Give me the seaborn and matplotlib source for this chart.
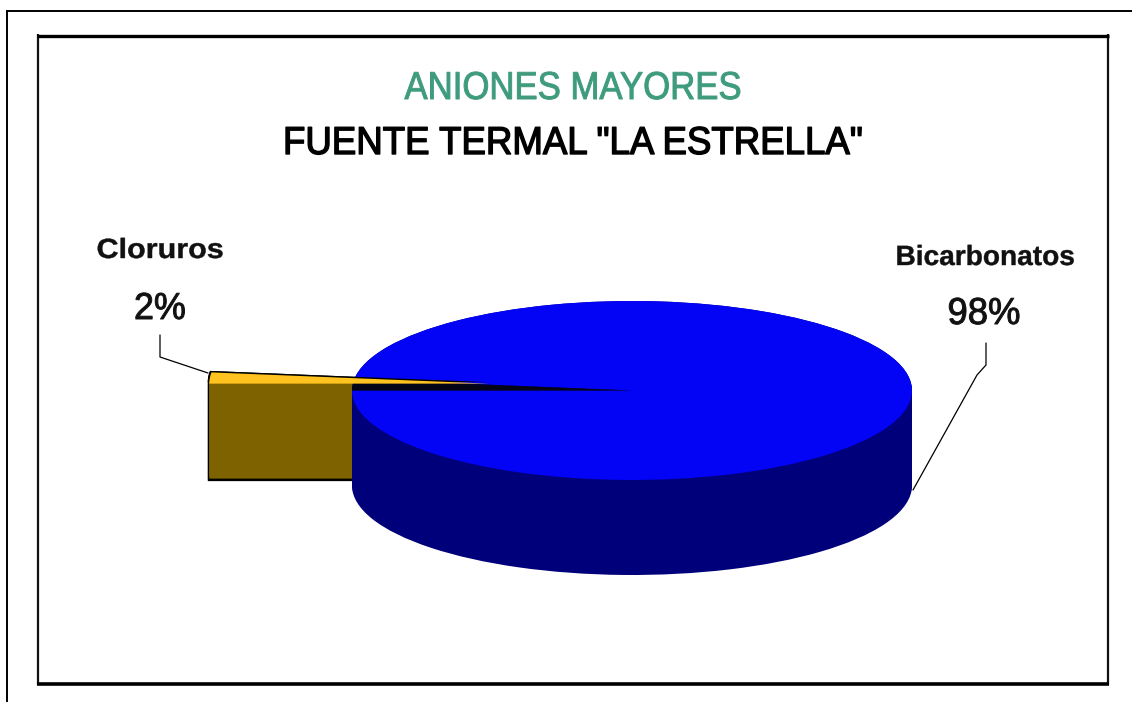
import matplotlib
matplotlib.use("Agg")
import matplotlib.pyplot as plt
from matplotlib.patheffects import AbstractPathEffect
from matplotlib.transforms import Affine2D
import seaborn as sns

W, H = 1132, 702
categories = ["Bicarbonatos", "Cloruros"]
values = [98, 2]
percent_labels = ["98%", "2%"]
title_top = "ANIONES MAYORES"
title_main = 'FUENTE TERMAL "LA ESTRELLA"'

sns.set_theme(style="white")
FONT = "Liberation Sans"

fig = plt.figure(figsize=(W / 100, H / 100), dpi=100, facecolor="white")

# page overlay in pixel coordinates
page = fig.add_axes([0, 0, 1, 1], zorder=5)
page.set_xlim(0, W)
page.set_ylim(H, 0)
page.axis("off")
page.patch.set_alpha(0)

# pie axes: unit circle stretched to the ellipse of the top face
L, R, T, B = 352, 912, 301, 480
pie_ax = fig.add_axes([L / W, 1 - B / H, (R - L) / W, (B - T) / H], zorder=1)
pie_ax.patch.set_alpha(0)
rx = (R - L) / 2
ry = (B - T) / 2
depth_units = 95 / ry
NONE = (0, 0, 0, 0)
START = 180


def layer(colors, center=(0.0, 0.0), explode=(0, 0)):
    props = {"linewidth": 0, "edgecolor": "none", "clip_on": False}
    pie_ax.pie(values, colors=colors, startangle=START, radius=1, center=center,
               explode=explode, wedgeprops=props, frame=True, normalize=True)


EXPL = (0, 143 / rx)
LIFT = 4 / ry
steps = 60
# exploded slice: dark backing, then side wall
for i in range(steps + 1):
    y = LIFT + 1.5 / ry - (depth_units + 4 / ry) * i / steps
    layer([NONE, "black"], (-1.5 / rx, y), EXPL)
for i in range(steps + 1):
    layer([NONE, "#7F6200"], (0, LIFT - depth_units * i / steps), EXPL)
# main body side wall
for i in range(steps + 1):
    layer(["#00007A", "#00007A"], (0, -depth_units * i / steps))
# top face
layer(["#0303F5", "#050518"])
layer([NONE, "black"], (-1.5 / rx, LIFT + 1.5 / ry), EXPL)
layer([NONE, "#FFC21E"], (0, LIFT), EXPL)
pie_ax.set_xlim(-1, 1)
pie_ax.set_ylim(-1, 1)
pie_ax.set_aspect("auto")
pie_ax.axis("off")

# frames
page.plot([7, 7], [702, 11], color="black", lw=1.4, solid_capstyle="butt")
page.plot([6, 1132], [11, 11], color="black", lw=1.4, solid_capstyle="butt")
page.plot([38, 38], [34, 685], color="#111111", lw=1.6, solid_capstyle="butt")
page.plot([1108, 1108], [34, 685], color="#111111", lw=1.6, solid_capstyle="butt")
page.plot([37, 1109], [35.5, 35.5], color="black", lw=2.4, solid_capstyle="butt")
page.plot([37, 1109], [683.5, 683.5], color="black", lw=2.6, solid_capstyle="butt")

# leader lines
page.plot([160, 160, 208], [335, 357, 373], color="black", lw=0.9)
page.plot([986, 986, 977, 913], [343, 365, 375, 490], color="black", lw=0.9)


class SqueezeX(AbstractPathEffect):
    """Draw the glyphs narrower about a fixed x, with a thin stroke for weight."""

    def __init__(self, sx, cx, stroke):
        super().__init__()
        self.sx, self.cx, self.stroke = sx, cx, stroke

    def draw_path(self, renderer, gc, tpath, affine, rgbFace=None):
        squeeze = Affine2D().translate(-self.cx, 0).scale(self.sx, 1).translate(self.cx, 0)
        gc0 = renderer.new_gc()
        gc0.copy_properties(gc)
        gc0.set_linewidth(self.stroke)
        gc0.set_foreground(rgbFace)
        renderer.draw_path(gc0, tpath, affine + squeeze, rgbFace)
        gc0.restore()


def fitted(x, y, s, width, size, color, weight="normal", stroke=0.7):
    t = page.text(x, y, s, color=color, fontsize=size, family=FONT, weight=weight,
                  ha="center", va="center")
    real = t.get_window_extent(fig.canvas.get_renderer()).width
    t.set_path_effects([SqueezeX(width / real, x, stroke)])
    return t


fitted(573, 89, title_top, 337, 28, "#3F9B7E")
fitted(573, 144, title_main, 580, 28, "black", stroke=1.0)
fitted(160, 251, categories[1], 127, 20, "#111111", "bold", 0.3)
fitted(160, 309, percent_labels[1], 52, 27, "#111111")
fitted(985, 258, categories[0], 179, 20, "#111111", "bold", 0.3)
fitted(984, 314, percent_labels[0], 73, 27, "#111111")

fig.savefig("out.png", dpi=100, facecolor="white")
